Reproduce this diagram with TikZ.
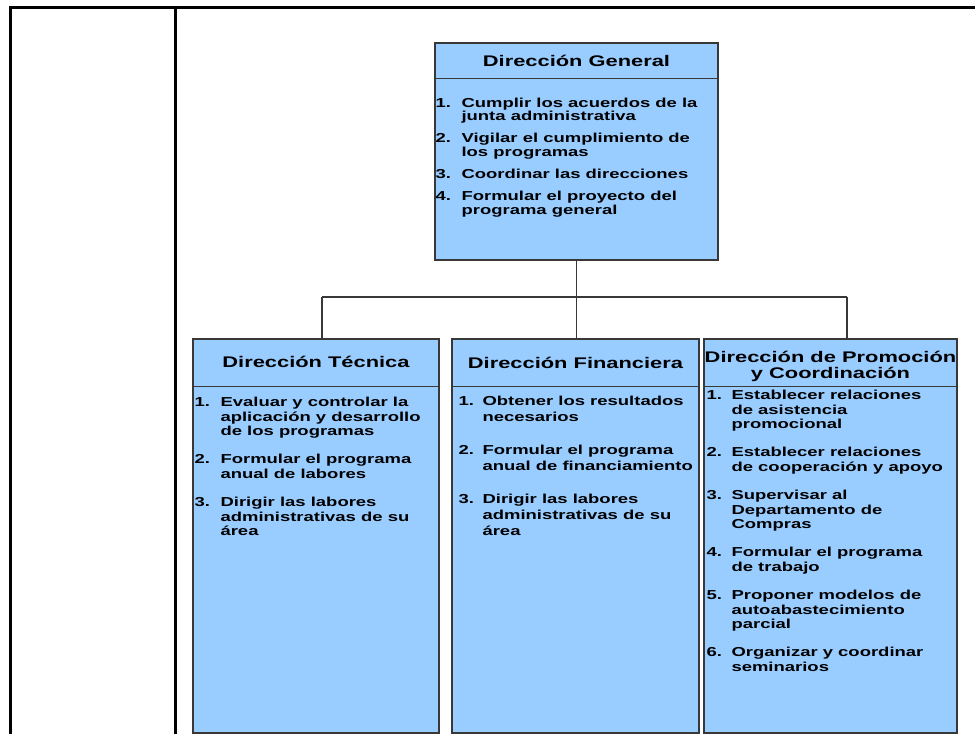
\documentclass[tikz,border=0pt]{standalone}
\usepackage{fontspec}
\usepackage{array}
\setmainfont{Liberation Sans}[FakeStretch=1.42]
\usetikzlibrary{calc,positioning}
\definecolor{OrgFill}{HTML}{99CCFF}
\definecolor{OrgLine}{HTML}{383838}

\begin{document}
\begin{tikzpicture}[
          x=1pt,y=-1pt,
          caja/.style={draw=OrgLine,fill=OrgFill,line width=1.3pt,
            inner sep=0pt},
          titulo/.style={font=\fontsize{15.4}{14.7}\selectfont\bfseries,
            inner sep=0pt,anchor=base},
          lista/.style={font=\fontsize{13}{14.8}\selectfont\bfseries,
            inner sep=0pt,anchor=base west},
          enlace/.style={draw=OrgLine,line width=1.3pt},
          marco/.style={draw=black,line width=3pt}
        ]
        \useasboundingbox (0,0) rectangle (975,734);
        % table frame
        \draw[marco] (9,7.7) -- (975,7.7);
        \draw[marco] (10.3,6.2) -- (10.3,734);
        \draw[marco] (175,6.2) -- (175,734);
        % boxes
        \node[caja,minimum width=283pt,minimum height=217pt] (dg)
          at (576.5,151.5) {};
        \node[caja,minimum width=246pt,minimum height=394pt] (dt)
          at (316,536) {};
        \node[caja,minimum width=247pt,minimum height=394pt] (df)
          at (575.5,536) {};
        \node[caja,minimum width=253pt,minimum height=394pt] (dp)
          at (830.5,536) {};
        \foreach \b/\h in {dg/36,dt/48,df/48,dp/48} {
          \draw[enlace] ($(\b.north west)+(0,\h)$) -- ($(\b.north east)+(0,\h)$);
        }
        % headers
        \node[titulo] (dgT) at ($(dg.north)+(0,24)$) {Dirección General};
        \node[titulo] (dtT) at ($(dt.north)+(0,29)$) {Dirección Técnica};
        \node[titulo] (dfT) at ($(df.north)+(0,30)$) {Dirección Financiera};
        \node[titulo] (dpT) at ($(dp.north)+(0,24)$)
          {\begin{tabular}[t]{@{}c@{}}Dirección de Promoción\\
            y Coordinación\end{tabular}};
        % functions
        \node[lista,font=\fontsize{13}{13}\selectfont\bfseries] (dgL)
          at ($(dg.north west)+(1,65)$)
          {\begin{tabular}[t]{@{}p{26pt}@{}l@{}}
            1. & Cumplir los acuerdos de la\\
               & junta administrativa\\[9pt]
            2. & Vigilar el cumplimiento de\\
               & los programas\\[9pt]
            3. & Coordinar las direcciones\\[9pt]
            4. & Formular el proyecto del\\
               & programa general
          \end{tabular}};
        \node[lista] (dtL) at ($(dt.north west)+(2,68)$)
          {\begin{tabular}[t]{@{}p{26pt}@{}l@{}}
            1. & Evaluar y controlar la\\
               & aplicación y desarrollo\\
               & de los programas\\[13pt]
            2. & Formular el programa\\
               & anual de labores\\[13pt]
            3. & Dirigir las labores\\
               & administrativas de su\\
               & área
          \end{tabular}};
        \node[lista,font=\fontsize{13}{16}\selectfont\bfseries] (dfL)
          at ($(df.north west)+(7,67)$)
          {\begin{tabular}[t]{@{}p{24pt}@{}l@{}}
            1. & Obtener los resultados\\
               & necesarios\\[17pt]
            2. & Formular el programa\\
               & anual de financiamiento\\[17pt]
            3. & Dirigir las labores\\
               & administrativas de su\\
               & área
          \end{tabular}};
        \node[lista] (dpL) at ($(dp.north west)+(3,61)$)
          {\begin{tabular}[t]{@{}p{25pt}@{}l@{}}
            1. & Establecer relaciones\\
               & de asistencia\\
               & promocional\\[13pt]
            2. & Establecer relaciones\\
               & de cooperación y apoyo\\[13pt]
            3. & Supervisar al\\
               & Departamento de\\
               & Compras\\[13pt]
            4. & Formular el programa\\
               & de trabajo\\[13pt]
            5. & Proponer modelos de\\
               & autoabastecimiento\\
               & parcial\\[13pt]
            6. & Organizar y coordinar\\
               & seminarios
          \end{tabular}};
        % connectors
        \coordinate (bus) at ($(dg.south)+(0,37)$);
        \coordinate (busL) at (322,297);
        \coordinate (busR) at (847,297);
        \draw[enlace] (dg.south) -- (bus);
        \draw[enlace] (busL) -- (busR);
        \draw[enlace] (busL) -- (busL |- dt.north);
        \draw[enlace] (bus) -- (bus |- df.north);
        \draw[enlace] (busR) -- (busR |- dp.north);
      \end{tikzpicture}
\end{document}
